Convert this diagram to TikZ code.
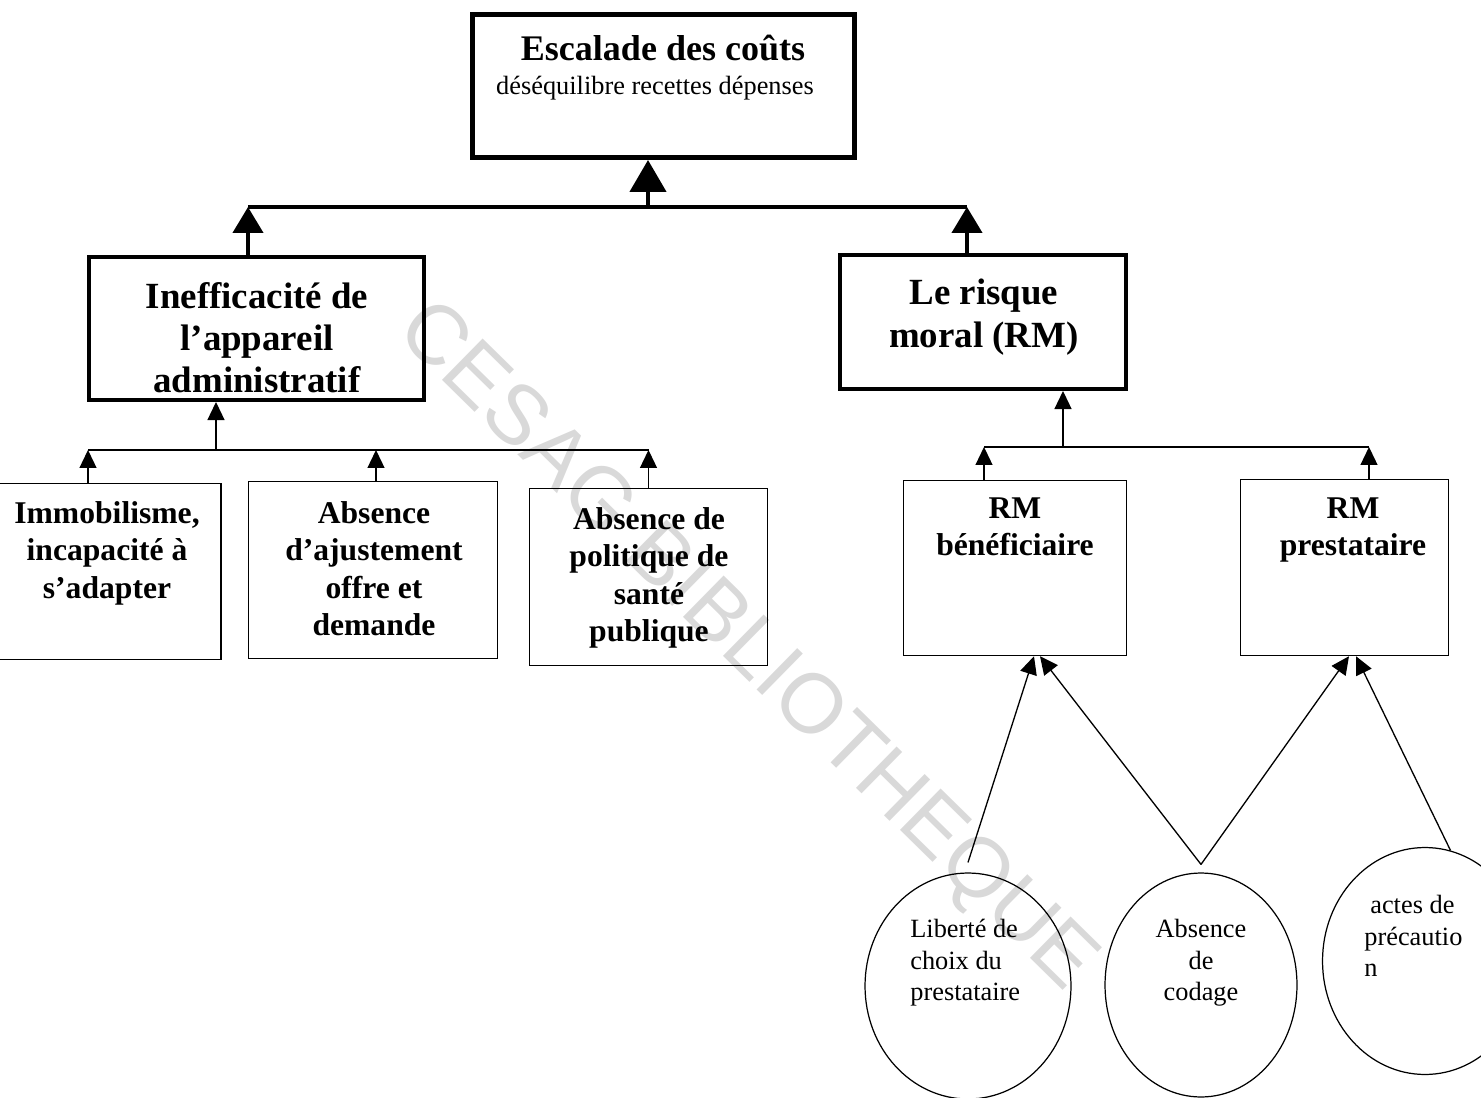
\documentclass[tikz,border=0pt]{standalone}
\usepackage{fontspec}
\setmainfont{Liberation Serif}
\newfontfamily\wmfont{Liberation Sans}
\usetikzlibrary{positioning, arrows.meta, calc, shapes.geometric}

\begin{document}
\begin{tikzpicture}[
    x=0.02cm, y=-0.02cm,
    every node/.style={inner sep=0pt},
    framebox/.style={
        draw=black,
        line width=#1,
        rectangle,
    },
    plainbox/.style={
        draw=black,
        line width=0.85pt,
        rectangle,
    },
    bubble/.style={
        draw=black,
        ellipse,
        line width=0.7pt,
    },
    headtext/.style={font=\bfseries\fontsize{21}{24}\selectfont, align=center},
    subtext/.style={font=\bfseries\fontsize{18}{21.3}\selectfont, align=center},
    bubbletext/.style={font=\fontsize{15}{18}\selectfont},
    bigarrow/.style={-{Triangle[width=0.6cm, length=0.52cm]}, line width=2.4pt},
    toparrow/.style={-{Triangle[width=0.72cm, length=0.64cm]}, line width=2.6pt},
    smallarrow/.style={-{Triangle[width=0.34cm, length=0.36cm]}, line width=0.75pt},
    thickline/.style={line width=2.5pt},
    thinline/.style={line width=0.75pt},
]

\useasboundingbox (0,0) rectangle (1481,1098);

% -- Watermark
\node[font=\wmfont\fontsize{48}{56}\selectfont, text=gray!30, rotate=-44.5] (wmark) at (745, 648) {CESAG BIBLIOTHEQUE};

% -- Top box
\node[framebox=2.85pt, minimum width=7.64cm, minimum height=2.86cm] (top) at (663.5, 86) {};
\node[font=\bfseries\fontsize{20.5}{24}\selectfont, anchor=base] (toptitle) at (663, 61) {Escalade des coûts};
\node[font=\fontsize{15}{18}\selectfont, anchor=base] (topsub) at (655, 95) {déséquilibre recettes dépenses};

% -- Second level
\node[framebox=2.3pt, minimum width=6.7cm, minimum height=2.86cm] (ineff) at (256.5, 328.5) {};
\node[headtext, anchor=north] (inefftxt) at (257, 282) {Inefficacité de\\l’appareil\\administratif};

\node[framebox=2.3pt, minimum width=5.72cm, minimum height=2.68cm] (risque) at (983, 322) {};
\node[headtext, anchor=north] (risquetxt) at (984, 279) {Le risque\\moral (RM)};

% -- Third level, left
\node[plainbox, minimum width=4.62cm, minimum height=3.52cm] (immob) at (105.5, 571.5) {};
\node[subtext, anchor=north] (immobtxt) at (107, 501) {Immobilisme,\\incapacité à\\s’adapter};

\node[plainbox, minimum width=4.98cm, minimum height=3.54cm] (ajust) at (373, 570) {};
\node[subtext, anchor=north] (ajusttxt) at (374, 501) {Absence\\d’ajustement\\offre et\\demande};

\node[plainbox, minimum width=4.76cm, minimum height=3.54cm] (polit) at (648.5, 577) {};
\node[subtext, anchor=north] (polittxt) at (649, 507) {Absence de\\politique de\\santé\\publique};

% -- Third level, right
\node[plainbox, minimum width=4.46cm, minimum height=3.5cm] (rmben) at (1015, 568) {};
\node[subtext, anchor=north] (rmbentxt) at (1015, 497) {RM\\bénéficiaire};

\node[plainbox, minimum width=4.16cm, minimum height=3.52cm] (rmpre) at (1344.5, 567.5) {};
\node[subtext, anchor=north] (rmpretxt) at (1353, 497) {RM\\prestataire};

% -- Bubbles
\node[bubble, minimum width=4.12cm, minimum height=4.52cm] (libre) at (968, 986) {};
\node[bubbletext, anchor=north west, align=left] (libretxt) at (910, 919) {Liberté de\\choix du\\prestataire};

\node[bubble, minimum width=3.84cm, minimum height=4.48cm] (codage) at (1201, 985) {};
\node[bubbletext, anchor=north, align=center] (codagetxt) at (1201, 919) {Absence\\de\\codage};

\node[bubble, minimum width=4.1cm, minimum height=4.54cm] (actes) at (1425, 961) {};
\node[bubbletext, anchor=north west, align=left] (actestxt) at (1364, 895) {\hspace{3.4pt}actes de\\précautio\\n};

% ===== Arrows =====

% top bus
\coordinate (bus1) at (648, 207);
\coordinate (busL) at (248, 207);
\coordinate (busR) at (967, 207);
\draw[thickline] (busL) -- (busR);
\draw[toparrow] (bus1) -- (bus1 |- top.south);
\draw[bigarrow] (busL |- ineff.north) -- (busL);
\draw[bigarrow] (busR |- risque.north) -- (busR);

% left bus
\coordinate (bus2) at (216, 450);
\draw[smallarrow] (bus2) -- (bus2 |- ineff.south);
\draw[thinline] ([xshift=-0.35cm]immob.north |- bus2) -- (polit.north |- bus2);
\draw[smallarrow] ([xshift=-0.35cm]immob.north) -- ([xshift=-0.35cm]immob.north |- bus2);
\draw[smallarrow] ([xshift=0.06cm]ajust.north) -- ([xshift=0.06cm]ajust.north |- bus2);
\draw[smallarrow] (polit.north) -- (polit.north |- bus2);

% right bus
\coordinate (bus3) at (1063, 447);
\draw[smallarrow] (bus3) -- (bus3 |- risque.south);
\draw[thinline] ([xshift=-0.62cm]rmben.north |- bus3) -- ([xshift=0.49cm]rmpre.north |- bus3);
\draw[smallarrow] ([xshift=-0.62cm]rmben.north) -- ([xshift=-0.62cm]rmben.north |- bus3);
\draw[smallarrow] ([xshift=0.49cm]rmpre.north) -- ([xshift=0.49cm]rmpre.north |- bus3);

% bubbles up to the RM boxes
\draw[smallarrow] ([yshift=0.2cm]libre.north) -- ([xshift=0.38cm]rmben.south);
\draw[smallarrow] ([yshift=0.16cm]codage.north) -- ([xshift=0.5cm]rmben.south);
\draw[smallarrow] ([yshift=0.16cm]codage.north) -- ([xshift=0.09cm]rmpre.south);
\draw[smallarrow] (actes.77) -- ([xshift=0.23cm]rmpre.south);

\end{tikzpicture}
\end{document}
